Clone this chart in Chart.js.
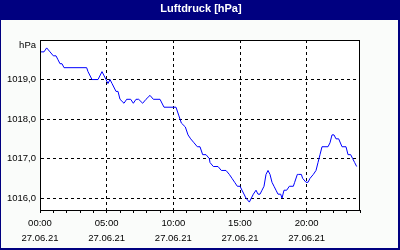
<!DOCTYPE html>
<html>
<head>
<meta charset="utf-8">
<script src="https://cdn.jsdelivr.net/npm/chart.js@4/dist/chart.umd.min.js"></script>
<style>
  html, body { margin: 0; padding: 0; background: #fafcfa; }
  #wrap { position: relative; width: 400px; height: 250px; }
  canvas { display: block; }
</style>
</head>
<body>
<div id="wrap"><canvas id="chartLuftdruck" width="400" height="250"></canvas></div>
<script>
// Messwerte 27.06.21 (Stunde, hPa)
const hours = [0, 0.3, 0.5, 0.75, 1.0, 1.2, 1.35, 1.5, 1.65, 1.8,
  3.5, 3.6, 3.9, 4.35, 4.65, 4.95, 5.1, 5.25, 5.4, 5.7,
  5.85, 6.0, 6.3, 6.5, 6.8, 7.0, 7.2, 7.4, 7.7, 7.95,
  8.25, 8.5, 9.0, 9.3, 10.2, 10.4, 10.6, 10.9, 11.1, 11.3,
  11.55, 11.8, 12.0, 12.2, 12.45, 12.7, 12.75, 13.0, 13.35, 13.6,
  13.95, 14.2, 14.4, 14.6, 14.8, 15.0, 15.15, 15.45, 15.7, 16.0,
  16.2, 16.35, 16.5, 16.65, 16.8, 16.95, 17.1, 17.25, 17.4, 17.55,
  17.7, 17.85, 18.05, 18.15, 18.3, 18.5, 18.7, 19.0, 19.1, 19.3,
  19.4, 19.6, 19.7, 19.95, 20.1, 20.25, 20.5, 20.7, 20.85, 21.0,
  21.15, 21.6, 21.75, 21.9, 22.05, 22.2, 22.4, 22.65, 22.95, 23.1,
  23.3, 23.45, 23.6, 23.75];
const druck = [1019.7, 1019.7, 1019.8, 1019.7, 1019.6, 1019.6, 1019.5, 1019.4, 1019.4, 1019.3,
  1019.3, 1019.2, 1019.0, 1019.0, 1019.2, 1019.0, 1018.9, 1019.0, 1018.9, 1018.7,
  1018.7, 1018.5, 1018.4, 1018.5, 1018.5, 1018.4, 1018.5, 1018.5, 1018.4, 1018.5,
  1018.6, 1018.5, 1018.5, 1018.3, 1018.3, 1018.1, 1017.9, 1017.8, 1017.6, 1017.5,
  1017.4, 1017.3, 1017.3, 1017.1, 1017.1, 1017.0, 1016.9, 1016.8, 1016.8, 1016.7,
  1016.7, 1016.6, 1016.5, 1016.4, 1016.3, 1016.3, 1016.2, 1016.0, 1015.9, 1016.1,
  1016.2, 1016.1, 1016.1, 1016.2, 1016.3, 1016.6, 1016.7, 1016.6, 1016.4, 1016.3,
  1016.2, 1016.1, 1016.1, 1016.0, 1016.2, 1016.2, 1016.3, 1016.3, 1016.4, 1016.6,
  1016.6, 1016.6, 1016.5, 1016.4, 1016.4, 1016.5, 1016.6, 1016.7, 1016.9, 1017.1,
  1017.3, 1017.3, 1017.4, 1017.6, 1017.6, 1017.5, 1017.5, 1017.3, 1017.3, 1017.1,
  1017.1, 1017.0, 1016.9, 1016.8];

const xTicks = [0, 1, 2, 3, 4, 5, 6, 7, 8, 9, 10, 11, 12, 13, 14, 15, 16, 17, 18, 19, 20, 21, 22, 23, 24];
const xLabelHours = [0, 5, 10, 15, 20];
const datum = '27.06.21';
const yTicks = [1016, 1017, 1018, 1019];

const NAVY = '#000080';
const FONT = 'Liberation Sans, Arial, sans-serif';

// Rahmen, Titelleiste, Plotrand, Einheit
const framePlugin = {
  id: 'frame',
  beforeDraw(chart) {
    const c = chart.ctx, a = chart.chartArea;
    c.save();
    c.fillStyle = '#fafcfa';
    c.fillRect(0, 0, 400, 250);
    c.fillStyle = NAVY;
    c.fillRect(0, 0, 400, 20);
    c.fillRect(0, 0, 1, 250);
    c.fillRect(398, 0, 2, 250);
    c.fillRect(0, 248, 400, 2);
    c.fillStyle = '#ffffff';
    c.fillRect(a.left, a.top, a.right - a.left, a.bottom - a.top);
    c.restore();
  },
  afterDraw(chart) {
    const c = chart.ctx, a = chart.chartArea;
    c.save();
    c.strokeStyle = '#000';
    c.lineWidth = 1;
    c.setLineDash([]);
    c.strokeRect(Math.round(a.left) + 0.5, Math.round(a.top) + 0.5, Math.round(a.right - a.left) - 1, Math.round(a.bottom - a.top));
    c.fillStyle = '#ffffff';
    c.font = 'bold 11px ' + FONT;
    c.textAlign = 'center';
    c.textBaseline = 'middle';
    c.fillText('Luftdruck [hPa]', 201, 9);
    c.fillStyle = '#000';
    c.font = '9.5px ' + FONT;
    c.textAlign = 'right';
    c.fillText('hPa', 36, 45);
    c.restore();
  }
};

const ctx = document.getElementById('chartLuftdruck').getContext('2d');
new Chart(ctx, {
  type: 'line',
  data: {
    datasets: [{
      data: hours.map((h, i) => ({ x: h, y: druck[i] })),
      borderColor: '#0000ff',
      borderWidth: 1,
      pointRadius: 0,
      tension: 0,
      fill: false
    }]
  },
  options: {
    responsive: false,
    animation: false,
    devicePixelRatio: 1,
    layout: { padding: { top: 40, right: 40, left: 0, bottom: 0 } },
    plugins: { legend: { display: false }, tooltip: { enabled: false }, title: { display: false } },
    scales: {
      x: {
        type: 'linear',
        min: 0,
        max: 24,
        afterFit: s => { s.height = 40; },
        afterBuildTicks: s => { s.ticks = xTicks.map(v => ({ value: v })); },
        border: { display: true, color: '#000', width: 1, dash: [3, 3] },
        grid: {
          color: c => (xLabelHours.includes(c.tick.value) && c.tick.value !== 0) ? '#000' : 'rgba(0,0,0,0)',
          drawTicks: true,
          tickLength: 3,
          tickColor: '#000',
          tickBorderDash: []
        },
        ticks: {
          autoSkip: false,
          maxRotation: 0,
          padding: 3,
          color: '#000',
          font: { family: FONT, size: 9.5, lineHeight: 15 / 9.5 },
          callback: v => xLabelHours.includes(v) ? [String(v).padStart(2, '0') + ':00', datum] : ''
        }
      },
      y: {
        min: 1015.7,
        max: 1020,
        afterFit: s => { s.width = 40; },
        afterBuildTicks: s => { s.ticks = yTicks.map(v => ({ value: v })); },
        border: { display: true, color: '#000', width: 1, dash: [3, 3] },
        grid: { color: '#000', drawTicks: false },
        ticks: {
          padding: 4,
          color: '#000',
          font: { family: FONT, size: 9.5 },
          callback: v => v.toFixed(1).replace('.', ',')
        }
      }
    }
  },
  plugins: [framePlugin]
});
</script>
</body>
</html>
